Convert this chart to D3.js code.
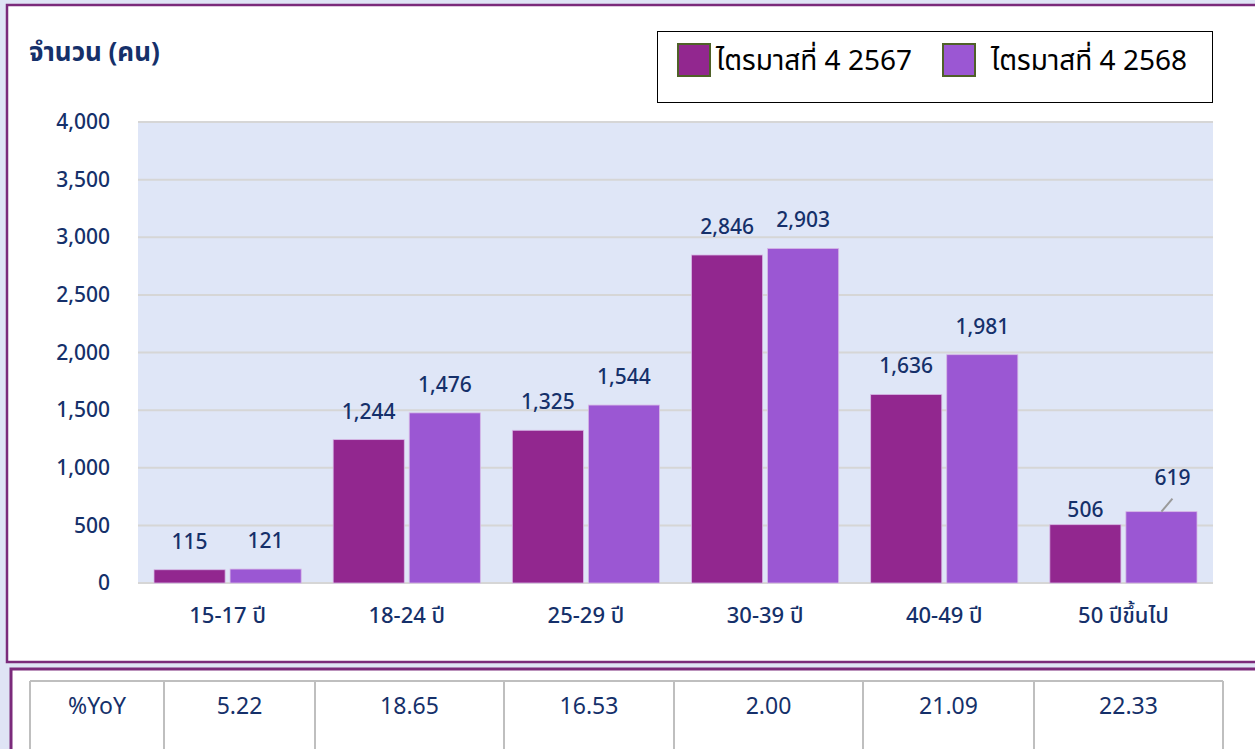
<!DOCTYPE html>
<html>
<head>
<meta charset="utf-8">
<script src="https://cdn.jsdelivr.net/npm/d3@7"></script>
<style>
  body { margin: 0; background: #dfe4f5; }
  svg { display: block; }
  text { font-family: Tahoma, "Noto Sans Thai", "Noto Sans", "DejaVu Sans", sans-serif; }
</style>
</head>
<body>
<div id="chart"></div>
<script>
// categories / series / values
const ageGroups = ["15-17 ปี", "18-24 ปี", "25-29 ปี", "30-39 ปี", "40-49 ปี", "50 ปีขึ้นไป"];
const seriesNames = ["ไตรมาสที่ 4 2567", "ไตรมาสที่ 4 2568"];
const q4_2567 = [115, 1244, 1325, 2846, 1636, 506];
const q4_2568 = [121, 1476, 1544, 2903, 1981, 619];
const yoy = ["5.22", "18.65", "16.53", "2.00", "21.09", "22.33"];
const yTicks = [0, 500, 1000, 1500, 2000, 2500, 3000, 3500, 4000];
const colors = ["#92278f", "#9b57d3"];

let W = 1255, H = 749;
let navy = "#15306a";
let fontStack = 'Tahoma, "Noto Sans Thai", "Noto Sans", "DejaVu Sans", sans-serif';

let svg = d3.select("#chart").append("svg")
    .attr("width", W)
    .attr("height", H);

// panels
svg.append("rect")
    .attr("x", 7).attr("y", 5)
    .attr("width", W + 10).attr("height", 657)
    .attr("fill", "#fff")
    .attr("stroke", "#7b2a7b")
    .attr("stroke-width", 2.5);

svg.append("rect")
    .attr("x", 11).attr("y", 669)
    .attr("width", W + 10).attr("height", 100)
    .attr("fill", "#fff")
    .attr("stroke", "#7b2a7b")
    .attr("stroke-width", 3);

// scales
let plot = {left: 138, right: 1213, top: 122, bottom: 583};

let x0 = d3.scaleBand()
    .domain(ageGroups)
    .range([plot.left, plot.right]);

let x1 = d3.scaleBand()
    .domain(seriesNames)
    .range([16, x0.bandwidth() - 16])
    .paddingInner(0.065);

let y = d3.scaleLinear()
    .domain([0, 4000])
    .range([plot.bottom, plot.top]);

// plot background
svg.append("rect")
    .attr("x", plot.left).attr("y", plot.top)
    .attr("width", plot.right - plot.left)
    .attr("height", plot.bottom - plot.top)
    .attr("fill", "#dfe6f7");

// grid
svg.append("g")
    .selectAll("line")
    .data(yTicks)
    .enter()
    .append("line")
    .attr("x1", plot.left).attr("x2", plot.right)
    .attr("y1", d => y(d)).attr("y2", d => y(d))
    .attr("stroke", "#d6d6d6")
    .attr("stroke-width", 2);

// y axis labels
let yAxis = svg.append("g")
    .attr("transform", `translate(${plot.left},0)`)
    .call(d3.axisLeft(y).tickValues(yTicks).tickFormat(d3.format(",")).tickSize(0).tickPadding(28));
yAxis.select(".domain").remove();
yAxis.selectAll("text")
    .attr("font-size", "21px")
    .attr("font-weight", 500)
    .attr("fill", navy)
    .style("font-family", fontStack);

// x axis labels
let xAxis = svg.append("g")
    .attr("transform", `translate(0,${plot.bottom})`)
    .call(d3.axisBottom(x0).tickSize(0).tickPadding(24));
xAxis.select(".domain").remove();
xAxis.selectAll("text")
    .attr("font-size", "22px")
    .attr("font-weight", 500)
    .attr("fill", navy)
    .style("font-family", fontStack);

// bars
let rows = ageGroups.map((g, i) => ({
    group: g,
    values: [
        {series: seriesNames[0], value: q4_2567[i], c: colors[0]},
        {series: seriesNames[1], value: q4_2568[i], c: colors[1]}
    ]
}));

let groups = svg.append("g")
    .selectAll("g")
    .data(rows)
    .enter()
    .append("g")
    .attr("transform", d => `translate(${x0(d.group)},0)`);

groups.selectAll("rect")
    .data(d => d.values)
    .enter()
    .append("rect")
    .attr("x", d => x1(d.series))
    .attr("y", d => y(d.value))
    .attr("width", x1.bandwidth())
    .attr("height", d => y(0) - y(d.value))
    .attr("fill", d => d.c)
    .attr("stroke", "#d7b8e6")
    .attr("stroke-width", 0.8);

// value labels (506 sits lower, 619 is pushed up with a leader line)
function labelGap(v) {
    if (v === 619) return 27;
    if (v === 506) return 8;
    return 21;
}

groups.selectAll(".val")
    .data(d => d.values)
    .enter()
    .append("text")
    .attr("class", "val")
    .attr("x", d => x1(d.series) + x1.bandwidth() / 2 + (d.value === 619 ? 11 : 0))
    .attr("y", d => y(d.value) - labelGap(d.value))
    .attr("text-anchor", "middle")
    .attr("font-size", "21px")
    .attr("font-weight", 500)
    .attr("fill", navy)
    .text(d => d3.format(",")(d.value));

let leader = rows[5].values[1];
let lx = x0(rows[5].group) + x1(leader.series) + x1.bandwidth() / 2;
svg.append("line")
    .attr("x1", lx).attr("y1", y(leader.value))
    .attr("x2", lx + 11).attr("y2", y(leader.value) - 13)
    .attr("stroke", "#9a9a9a")
    .attr("stroke-width", 2);

// y title
svg.append("text")
    .attr("x", 29).attr("y", 61)
    .attr("font-size", "26px")
    .attr("font-weight", 700)
    .attr("fill", navy)
    .text("จำนวน (คน)");

// legend
svg.append("rect")
    .attr("x", 657.5).attr("y", 31.5)
    .attr("width", 555).attr("height", 71)
    .attr("fill", "#fff")
    .attr("stroke", "#000")
    .attr("stroke-width", 1);

let legendX = [678, 943];
let leg = svg.append("g")
    .selectAll("g")
    .data(seriesNames)
    .enter()
    .append("g")
    .attr("transform", (d, i) => `translate(${legendX[i]},44)`);

leg.append("rect")
    .attr("width", 32).attr("height", 32)
    .attr("fill", (d, i) => colors[i])
    .attr("stroke", "#4f6128")
    .attr("stroke-width", 2);

leg.append("text")
    .attr("x", (d, i) => i === 0 ? 38 : 48)
    .attr("y", 26)
    .attr("font-size", "28px")
    .attr("fill", "#000")
    .text(d => d);

// %YoY table
let colEdges = [30, 164, 315, 504, 674, 863, 1034, 1223];
let cells = ["%YoY"].concat(yoy);

let table = svg.append("g");
table.append("line")
    .attr("x1", colEdges[0]).attr("x2", colEdges[colEdges.length - 1])
    .attr("y1", 681).attr("y2", 681)
    .attr("stroke", "#bfbfbf").attr("stroke-width", 2);

table.selectAll(".col")
    .data(colEdges)
    .enter()
    .append("line")
    .attr("class", "col")
    .attr("x1", d => d).attr("x2", d => d)
    .attr("y1", 681).attr("y2", H + 5)
    .attr("stroke", "#bfbfbf").attr("stroke-width", 2);

table.selectAll(".cell")
    .data(cells)
    .enter()
    .append("text")
    .attr("class", "cell")
    .attr("x", (d, i) => (colEdges[i] + colEdges[i + 1]) / 2)
    .attr("y", 714)
    .attr("text-anchor", "middle")
    .attr("font-size", "23px")
    .attr("fill", navy)
    .text(d => d);
</script>
</body>
</html>
